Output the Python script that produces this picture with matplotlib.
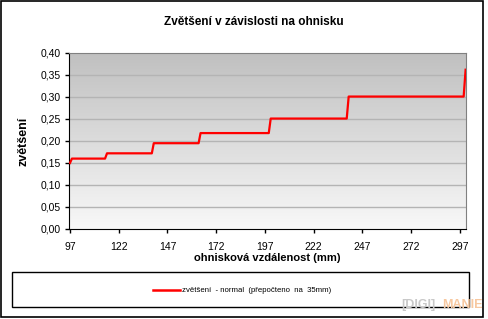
import numpy as np
import matplotlib.pyplot as plt
from matplotlib.patches import Rectangle
from matplotlib.ticker import FuncFormatter

plt.rcParams['font.family'] = ['Liberation Sans', 'DejaVu Sans']

# data (step changes of magnification)
focal = [97, 98, 115, 116, 139, 140, 163, 164, 199, 200, 239, 240, 299, 300]
zoom_ = [0.150, 0.160, 0.160, 0.172, 0.172, 0.195, 0.195, 0.218, 0.218,
         0.251, 0.251, 0.301, 0.301, 0.362]
xticks = [97, 122, 147, 172, 197, 222, 247, 272, 297]
yticks = [0.00, 0.05, 0.10, 0.15, 0.20, 0.25, 0.30, 0.35, 0.40]

W, H = 488, 319
fig = plt.figure(figsize=(W / 100, H / 100), dpi=100)

def fx(px): return px / W
def fy(py): return 1 - py / H

# outer border
fig.patches.append(Rectangle((fx(1), fy(317)), fx(483) - fx(1), fy(1) - fy(317),
                             transform=fig.transFigure, fill=False, ec='black', lw=1.2))

ax = fig.add_axes([fx(69), fy(229), fx(466) - fx(69), fy(53) - fy(229)])
ax.set_xlim(96.5, 300.2)
ax.set_ylim(0, 0.40)

# gray gradient background
grad = np.linspace(0, 1, 256).reshape(-1, 1)
ax.imshow(grad, extent=[96.5, 300.2, 0, 0.40], aspect='auto', origin='upper',
          cmap=plt.matplotlib.colors.LinearSegmentedColormap.from_list('g', ['#c0c0c0', '#f8f8f8']),
          zorder=0)

for y in yticks[1:-1]:
    ax.axhline(y, color='#b4b4b4', lw=1, zorder=1)

ax.plot(focal, zoom_, color='#ff0000', lw=1.6, zorder=3)

ax.set_xticks(xticks)
ax.set_yticks(yticks)
ax.yaxis.set_major_formatter(FuncFormatter(lambda v, p: f'{v:.2f}'.replace('.', ',')))
ax.tick_params(direction='out', length=3, width=1, labelsize=7.5, colors='black', pad=3)
ax.tick_params(axis='x', pad=6)
for s in ['top', 'right']:
    ax.spines[s].set_color('#808080')
for s in ['left', 'bottom']:
    ax.spines[s].set_color('black')

ax.set_xlabel('ohnisková vzdálenost (mm)', fontsize=8, fontweight='bold', labelpad=1)
ax.set_ylabel('zvětšení', fontsize=9, fontweight='bold', labelpad=8)

fig.text(fx(254), fy(22), 'Zvětšení v závislosti na ohnisku', ha='center', va='center',
         fontsize=8.5, fontweight='bold')

# legend box
fig.patches.append(Rectangle((fx(12), fy(307)), fx(469) - fx(12), fy(272) - fy(307),
                             transform=fig.transFigure, fill=False, ec='black', lw=1))
fig.lines.append(plt.Line2D([fx(153), fx(180)], [fy(290), fy(290)], transform=fig.transFigure,
                            color='#ff0000', lw=1.8))
fig.text(fx(182), fy(290), 'zvětšení  - normal  (přepočteno  na  35mm)', ha='left', va='center',
         fontsize=5.6)

# watermark
fig.text(fx(401), fy(305), '[DIGI]', ha='left', va='center', fontsize=9, fontweight='bold',
         color='#c8c8c8')
fig.text(fx(442), fy(305), 'MANIE', ha='left', va='center', fontsize=9, fontweight='bold',
         color='#f7c8a0')

plt.savefig('out.png', dpi=100)
